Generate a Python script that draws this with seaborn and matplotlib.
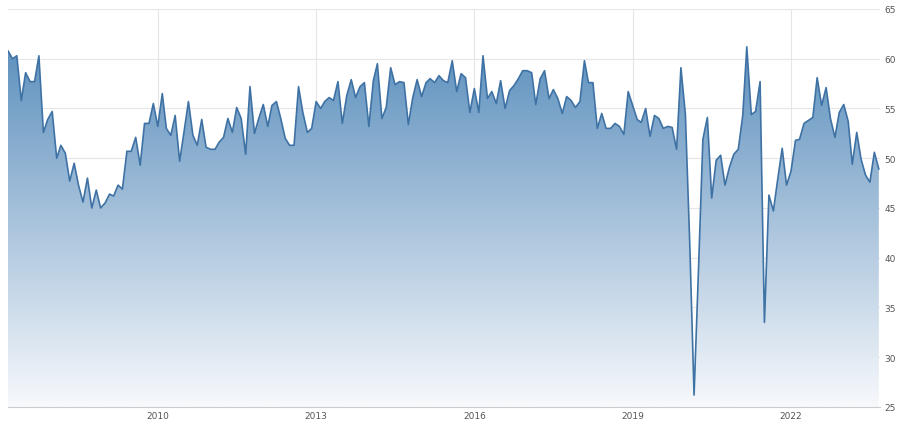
import numpy as np
import pandas as pd
import matplotlib
matplotlib.use("Agg")
import matplotlib.pyplot as plt
import matplotlib.dates as mdates
import seaborn as sns

# monthly readings
vals_2007_2009 = [60.8, 60.0, 60.3, 55.8, 58.6, 57.7, 57.7, 60.3, 52.6, 53.9, 54.7, 50.0,
                  51.3, 50.5, 47.7, 49.5, 47.3, 45.6, 48.0, 45.0, 46.8, 45.0, 45.5, 46.4,
                  46.2, 47.3, 46.9, 50.7, 50.7, 52.1, 49.3, 53.5, 53.5, 55.5, 53.2]
vals_2010_2012 = [56.5, 53.0, 52.3, 54.3, 49.7, 52.6, 55.7, 52.3, 51.3, 53.9, 51.1, 50.9,
                  50.9, 51.6, 52.1, 54.0, 52.6, 55.1, 54.0, 50.4, 57.2, 52.5, 54.0, 55.4,
                  53.2, 55.3, 55.7, 54.0, 52.0, 51.3, 51.3, 57.2, 54.6, 52.6, 53.0, 55.7]
vals_2013_2015 = [55.0, 55.7, 56.1, 55.8, 57.7, 53.5, 56.3, 57.9, 56.1, 57.2, 57.6, 53.2,
                  57.8, 59.5, 54.0, 55.1, 59.1, 57.4, 57.7, 57.6, 53.4, 56.1, 57.9, 56.2,
                  57.6, 58.0, 57.6, 58.3, 57.8, 57.6, 59.8, 56.7, 58.5, 58.1, 54.6, 57.0]
vals_2016_2018 = [54.6, 60.3, 56.0, 56.7, 55.5, 57.8, 55.0, 56.8, 57.3, 58.0, 58.8, 58.8,
                  58.6, 55.4, 58.0, 58.8, 56.0, 56.9, 56.0, 54.5, 56.2, 55.8, 55.1, 55.7,
                  59.8, 57.6, 57.6, 53.0, 54.5, 53.0, 53.0, 53.5, 53.2, 52.4, 56.7, 55.3, 53.9]
vals_2019_2021 = [53.6, 55.0, 52.2, 54.3, 54.0, 53.0, 53.2, 53.1, 50.9, 59.1, 54.4, 41.0,
                  26.2, 39.0, 51.9, 54.1, 46.0, 49.8, 50.3, 47.3, 49.1, 50.4, 50.9, 54.3,
                  61.2, 54.4, 54.7, 57.7, 33.5, 46.3, 44.7, 47.9, 51.0, 47.3]
vals_2022_2023 = [48.7, 51.8, 51.9, 53.5, 53.8, 54.1, 58.1, 55.3, 57.1, 54.0, 52.1, 54.6,
                  55.4, 53.7, 49.4, 52.6, 49.9, 48.3, 47.6, 50.6, 48.9]

values = (vals_2007_2009 + vals_2010_2012 + vals_2013_2015 + vals_2016_2018
          + vals_2019_2021 + vals_2022_2023)
dates = pd.date_range("2007-03-01", periods=len(values), freq="MS")
df = pd.DataFrame({"date": dates, "value": values})

sns.set_style("white")
fig = plt.figure(figsize=(9, 4.31), dpi=100)
ax = fig.add_axes([8 / 900, 23 / 431, 872 / 900, 398 / 431])

ymin, ymax = 25, 65
x = mdates.date2num(df["date"])
xlo, xhi = x[0], x[-1]

# gradient fill clipped to the area under the line
grad = np.linspace(1, 0, 256).reshape(-1, 1)
cmap = matplotlib.colors.LinearSegmentedColormap.from_list(
    "tefill", ["#f7f9fc", "#a9c3dc", "#5b8fbd"])
poly = ax.fill_between(x, df["value"], ymin, color="none")
im = ax.imshow(grad, aspect="auto", cmap=cmap, extent=[xlo, xhi, ymin, 62],
               origin="upper", zorder=1)
im.set_clip_path(poly.get_paths()[0], transform=ax.transData)

sns.lineplot(data=df, x="date", y="value", ax=ax, color="#3f72a4", lw=1.2, zorder=3)

ax.set_xlim(xlo, xhi + 8)
ax.set_ylim(ymin, ymax)
ax.yaxis.tick_right()
ax.set_yticks(range(25, 66, 5))
ax.xaxis.set_major_locator(mdates.YearLocator(3, month=1, day=1))
ax.xaxis.set_major_formatter(mdates.DateFormatter("%Y"))
ax.tick_params(axis="both", labelsize=6.5, colors="#555555", length=0, pad=3)
ax.grid(True, color="#e6e6e6", lw=0.8)
ax.set_axisbelow(True)
ax.set_xlabel("")
ax.set_ylabel("")
for s in ax.spines.values():
    s.set_visible(False)
ax.spines["bottom"].set_visible(True)
ax.spines["bottom"].set_color("#cccccc")

fig.savefig("out.png", dpi=100)
